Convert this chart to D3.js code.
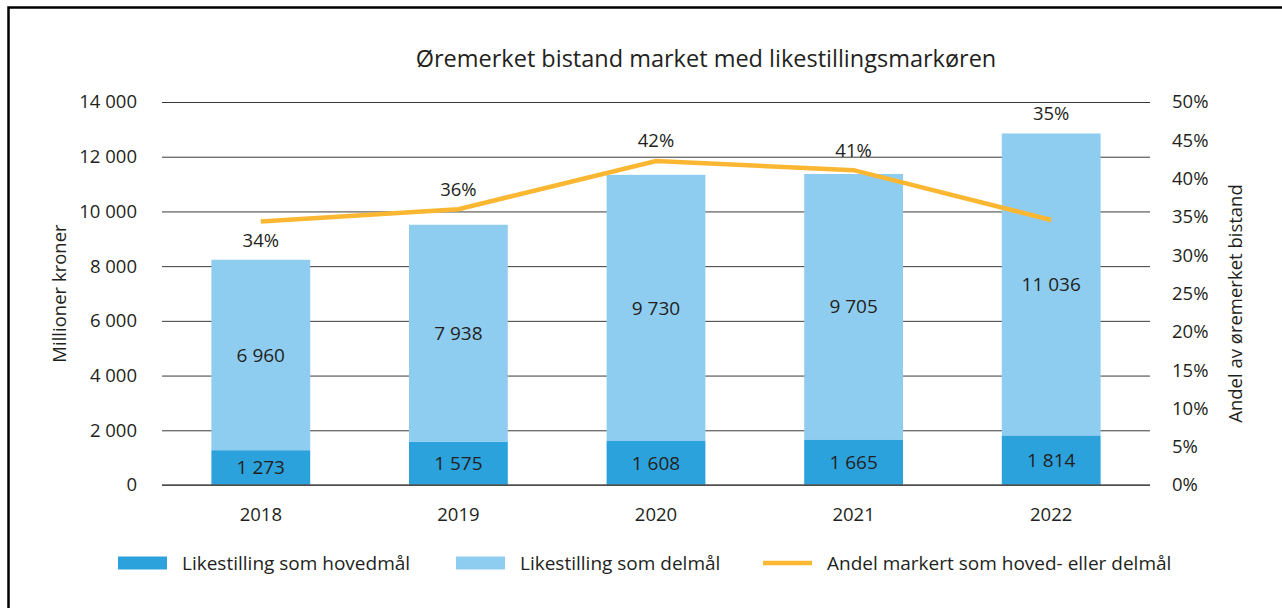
<!DOCTYPE html>
<html>
<head>
<meta charset="utf-8">
<script src="https://cdn.jsdelivr.net/npm/d3@7"></script>
<style>
  body { margin: 0; background: #fff; }
  text { font-family: "Open Sans", sans-serif; fill: #231f20; }
</style>
</head>
<body>
<div id="chart"></div>
<script>
// data
const years = ["2018", "2019", "2020", "2021", "2022"];
const hovedmal = [1273, 1575, 1608, 1665, 1814];
const delmal = [6960, 7938, 9730, 9705, 11036];
const andel = [34.4, 36.0, 42.3, 41.1, 34.6];
const andelLabels = ["34%", "36%", "42%", "41%", "35%"];
const leftTicks = [0, 2000, 4000, 6000, 8000, 10000, 12000, 14000];
const rightTicks = [0, 5, 10, 15, 20, 25, 30, 35, 40, 45, 50];

const W = 1282, H = 608;
const margin = { top: 102, right: 132, bottom: 123, left: 162 };
const width = W - margin.left - margin.right;
const height = H - margin.top - margin.bottom;

const nb = d3.formatLocale({ decimal: ",", thousands: " ", grouping: [3], currency: ["", ""] });
const fmt = nb.format(",d");

const colDark = "#2ca2dc", colLight = "#8fcdf0", colLine = "#fbb731";

const root = d3.select("#chart").append("svg").attr("width", W).attr("height", H);

// frame
root.append("rect")
  .attr("x", 8.5).attr("y", 7.5)
  .attr("width", 1400).attr("height", 800)
  .attr("fill", "none").attr("stroke", "#000").attr("stroke-width", 2.5);

const svg = root.append("g").attr("transform", `translate(${margin.left},${margin.top})`);

const x = d3.scaleBand().domain(years).range([0, width]).paddingInner(0.5).paddingOuter(0.25);
const y = d3.scaleLinear().domain([0, 14000]).range([height, 0]);
const y2 = d3.scaleLinear().domain([0, 50]).range([height, 0]);

// gridlines
svg.append("g")
  .call(d3.axisLeft(y).tickValues(leftTicks).tickSize(-width).tickFormat(""))
  .call(g => g.select(".domain").remove())
  .call(g => g.selectAll("line").attr("stroke", "#3a3a3a").attr("stroke-width", 1));

// left tick labels
svg.append("g")
  .call(d3.axisLeft(y).tickValues(leftTicks).tickSize(0).tickPadding(25).tickFormat(fmt))
  .call(g => g.select(".domain").remove())
  .call(g => g.selectAll("text").style("font-size", "18.5px").style("fill", "#231f20"));

// right tick labels
svg.append("g")
  .attr("transform", `translate(${width},0)`)
  .call(d3.axisRight(y2).tickValues(rightTicks).tickSize(0).tickPadding(22).tickFormat(d => d + "%"))
  .call(g => g.select(".domain").remove())
  .call(g => g.selectAll("text").style("font-size", "18.5px").style("fill", "#231f20"));

// x labels
svg.append("g")
  .attr("transform", `translate(0,${height})`)
  .call(d3.axisBottom(x).tickSize(0).tickPadding(23))
  .call(g => g.select(".domain").remove())
  .call(g => g.selectAll("text").style("font-size", "18.5px").style("fill", "#231f20"));

// bars
const rows = years.map((yr, i) => ({ yr, h: hovedmal[i], d: delmal[i], p: andel[i], lab: andelLabels[i] }));

svg.selectAll(".bar-h").data(rows).enter().append("rect")
  .attr("x", d => x(d.yr)).attr("width", x.bandwidth())
  .attr("y", d => y(d.h)).attr("height", d => y(0) - y(d.h))
  .attr("fill", colDark);

svg.selectAll(".bar-d").data(rows).enter().append("rect")
  .attr("x", d => x(d.yr)).attr("width", x.bandwidth())
  .attr("y", d => y(d.h + d.d)).attr("height", d => y(d.h) - y(d.h + d.d))
  .attr("fill", colLight);

// baseline
svg.append("line").attr("x1", 0).attr("x2", width).attr("y1", height).attr("y2", height)
  .attr("stroke", "#555").attr("stroke-width", 1.5);

// segment labels
svg.selectAll(".lab-h").data(rows).enter().append("text")
  .attr("x", d => x(d.yr) + x.bandwidth() / 2)
  .attr("y", d => y(d.h / 2)).attr("dy", "0.35em")
  .attr("text-anchor", "middle").style("font-size", "19px")
  .text(d => fmt(d.h));

svg.selectAll(".lab-d").data(rows).enter().append("text")
  .attr("x", d => x(d.yr) + x.bandwidth() / 2)
  .attr("y", d => y(d.h + d.d / 2)).attr("dy", "0.35em")
  .attr("text-anchor", "middle").style("font-size", "19px")
  .text(d => fmt(d.d));

// line
const line = d3.line().x(d => x(d.yr) + x.bandwidth() / 2).y(d => y2(d.p));
svg.append("path").datum(rows)
  .attr("d", line).attr("fill", "none")
  .attr("stroke", colLine).attr("stroke-width", 4.5);

// percentage labels
svg.selectAll(".lab-p").data(rows).enter().append("text")
  .attr("x", d => x(d.yr) + x.bandwidth() / 2)
  .attr("y", d => {
    const top = y(d.h + d.d), ly = y2(d.p);
    if (top - ly > 30) return (top + ly) / 2;
    return Math.min(top, ly) - 20;
  })
  .attr("dy", "0.35em")
  .attr("text-anchor", "middle").style("font-size", "18.5px")
  .text(d => d.lab);

// axis titles
svg.append("text")
  .attr("transform", `translate(-102,${height / 2}) rotate(-90)`)
  .attr("text-anchor", "middle").attr("dy", "0.35em").style("font-size", "18.5px")
  .text("Millioner kroner");

svg.append("text")
  .attr("transform", `translate(${width + 86},${height / 2 + 10}) rotate(-90)`)
  .attr("text-anchor", "middle").attr("dy", "0.35em").style("font-size", "18.5px")
  .text("Andel av øremerket bistand");

// title
root.append("text")
  .attr("x", 706).attr("y", 59).attr("dy", "0.35em")
  .attr("text-anchor", "middle").style("font-size", "23.5px")
  .text("Øremerket bistand market med likestillingsmarkøren");

// legend
const legend = root.append("g").attr("transform", "translate(0,563)");
const items = [
  { label: "Likestilling som hovedmål", type: "rect", color: colDark, x: 118 },
  { label: "Likestilling som delmål", type: "rect", color: colLight, x: 456 },
  { label: "Andel markert som hoved- eller delmål", type: "line", color: colLine, x: 763 }
];
items.forEach(it => {
  if (it.type === "rect") {
    legend.append("rect").attr("x", it.x).attr("y", -6.5).attr("width", 49).attr("height", 13).attr("fill", it.color);
  } else {
    legend.append("line").attr("x1", it.x).attr("x2", it.x + 49).attr("y1", 0).attr("y2", 0)
      .attr("stroke", it.color).attr("stroke-width", 4.5);
  }
  legend.append("text").attr("x", it.x + 64).attr("y", 0).attr("dy", "0.35em")
    .style("font-size", "19px").text(it.label);
});
</script>
</body>
</html>
